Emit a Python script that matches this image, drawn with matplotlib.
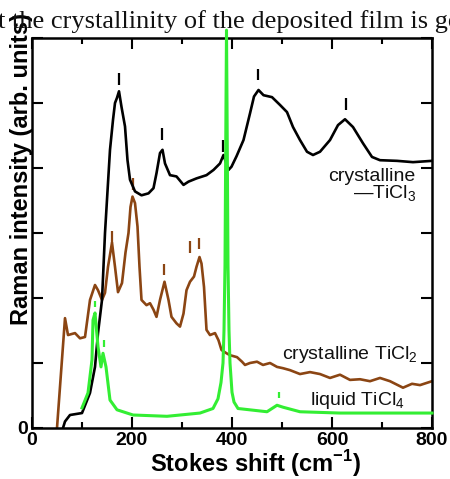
import matplotlib
matplotlib.use("Agg")
import matplotlib.pyplot as plt

# ---- data ----
ticl3_x = [62, 66, 76, 100, 116, 126, 132, 140, 146, 152, 156, 162, 166, 170, 174, 179,
           186, 191, 196, 206, 219, 233, 243, 249, 256, 261, 266, 276, 289, 303, 313, 329,
           349, 363, 376, 383, 393, 399, 409, 423, 436, 444, 453, 463, 480, 496, 510, 522,
           536, 550, 562, 576, 596, 612, 626, 642, 662, 680, 696, 730, 762, 800]
ticl3_y = [0.0, 0.1, 0.2, 0.23, 0.54, 0.94, 1.46, 1.97, 3.0, 3.77, 4.28, 4.74, 5.0, 5.08,
           5.18, 4.94, 4.64, 4.12, 3.82, 3.64, 3.58, 3.61, 3.69, 3.92, 4.23, 4.28, 4.07,
           3.89, 3.87, 3.74, 3.79, 3.84, 3.89, 3.97, 4.07, 4.2, 3.97, 4.02, 4.18, 4.43, 4.84,
           5.1, 5.2, 5.12, 5.09, 4.97, 4.86, 4.63, 4.43, 4.25, 4.2, 4.25, 4.43, 4.66, 4.75,
           4.63, 4.38, 4.17, 4.12, 4.11, 4.09, 4.11]

ticl2_x = [50, 66, 72, 86, 96, 106, 116, 126, 132, 140, 146, 152, 160, 166, 172, 180, 187,
           193, 197, 201, 206, 211, 215, 219, 229, 236, 243, 249, 256, 265, 273, 279, 289,
           296, 303, 309, 316, 324, 329, 335, 339, 344, 349, 356, 366, 373, 379, 389, 396,
           410, 420, 426, 436, 450, 462, 476, 490, 502, 516, 536, 556, 576, 596, 616, 636,
           656, 676, 696, 716, 742, 760, 776, 800]
ticl2_y = [0.0, 1.69, 1.43, 1.46, 1.38, 1.4, 1.97, 2.2, 2.12, 1.97, 2.08, 2.48, 2.85, 2.48,
           2.09, 2.23, 2.7, 3.0, 3.4, 3.56, 3.46, 3.1, 2.48, 1.97, 1.89, 1.92, 1.82, 1.71,
           1.97, 2.25, 1.97, 1.71, 1.61, 1.56, 1.76, 2.12, 2.25, 2.33, 2.48, 2.63, 2.53,
           2.17, 1.51, 1.43, 1.46, 1.35, 1.2, 1.15, 1.12, 1.09, 1.02, 0.97, 1.0, 1.02, 0.97,
           1.0, 0.94, 0.92, 0.89, 0.83, 0.86, 0.83, 0.77, 0.82, 0.74, 0.75, 0.72, 0.77,
           0.72, 0.62, 0.68, 0.66, 0.72]

ticl4_x = [100, 112, 120, 122, 126, 132, 138, 142, 148, 156, 170, 202, 270, 336, 362, 372,
           378, 382, 384, 386, 388, 389, 390, 392, 394, 396, 400, 404, 412, 470, 490, 502,
           536, 616, 800]
ticl4_y = [0.31, 0.54, 1.05, 1.66, 1.77, 1.25, 0.94, 1.15, 0.94, 0.43, 0.28, 0.2, 0.18,
           0.23, 0.3, 0.45, 0.7, 1.0, 1.5, 2.5, 5.0, 6.12, 5.0, 2.5, 1.5, 1.0, 0.55, 0.4,
           0.3, 0.25, 0.35, 0.32, 0.25, 0.23, 0.23]

# peak marks: position and lower end of each mark
mark3_x = [174, 260, 382, 452, 628]
mark3_y = [5.28, 4.43, 4.25, 5.35, 4.9]
mark2_x = [160, 202, 264, 316, 334]
mark2_y = [2.85, 3.66, 2.35, 2.7, 2.75]
mark4_x = [126, 144, 494]
mark4_y = [1.86, 1.25, 0.46]

xticks = [0, 200, 400, 600, 800]
yticks = [0, 1, 2, 3, 4, 5, 6]
ytick_labels = ['0', '', '', '', '', '', '']

c_black = '#000000'
c_brown = '#8b4513'
c_green = '#33ee33'

plt.rcParams['font.family'] = ['Liberation Sans', 'DejaVu Sans']
plt.rcParams['mathtext.fontset'] = 'custom'
plt.rcParams['mathtext.rm'] = 'Liberation Sans'
plt.rcParams['mathtext.bf'] = 'Liberation Sans:bold'

fig = plt.figure(figsize=(4.5, 4.79), dpi=100)
ax = fig.add_axes([32 / 450, 51 / 479, 400 / 450, 390 / 479])

ax.plot(ticl2_x, ticl2_y, color=c_brown, lw=1.9, zorder=2)
ax.plot(ticl3_x, ticl3_y, color=c_black, lw=1.9, zorder=3)
ax.plot(ticl4_x, ticl4_y, color=c_green, lw=2.2, zorder=4, clip_on=False)

mh = 0.18
ax.vlines(mark3_x, mark3_y, [v + mh for v in mark3_y], color=c_black, lw=1.6)
ax.vlines(mark2_x, mark2_y, [v + mh for v in mark2_y], color=c_brown, lw=1.6)
ax.vlines(mark4_x, mark4_y, [v + 0.1 for v in mark4_y], color=c_green, lw=1.6)

ax.set_xlim(0, 800)
ax.set_ylim(0, 6)
ax.set_xticks(xticks)
ax.set_xticks([100, 300, 500, 700], minor=True)
ax.set_yticks(yticks)
ax.set_yticklabels(ytick_labels)
ax.tick_params(which='both', direction='in', top=True, right=True, width=1.5,
               labelsize=14, pad=3)
ax.tick_params(which='major', length=8)
ax.tick_params(which='minor', length=4.5)
for lab in ax.get_xticklabels() + ax.get_yticklabels():
    lab.set_fontweight('bold')
for s in ax.spines.values():
    s.set_linewidth(1.8)

tkw = dict(fontsize=14, color='#111111')
ax.text(680, 3.8, 'crystalline', ha='center', va='baseline', **tkw)
ax.text(642, 3.52, '\u2014TiCl$_3$', ha='left', va='baseline', **tkw)
ax.text(500, 1.06, 'crystalline TiCl$_2$', ha='left', va='baseline', **tkw)
ax.text(556, 0.354, 'liquid TiCl$_4$', ha='left', va='baseline', **tkw)

fig.text(256 / 450, 1 - 472 / 479, 'Stokes shift (cm$^{\\mathbf{-1}}$)', ha='center',
         va='baseline', fontsize=17, fontweight='bold')
fig.text(22 / 450, 1 - 325 / 479, 'Raman intensity (arb. units)', rotation=90,
         ha='center', va='bottom', fontsize=17, fontweight='bold')

fig.text(-0.004, 1 - 28 / 479, 't the crystallinity of the deposited film is go',
         ha='left', va='baseline', fontsize=19, family=['Liberation Serif', 'DejaVu Serif'],
         color='#111111', zorder=10)

fig.savefig('out.png', dpi=100)
